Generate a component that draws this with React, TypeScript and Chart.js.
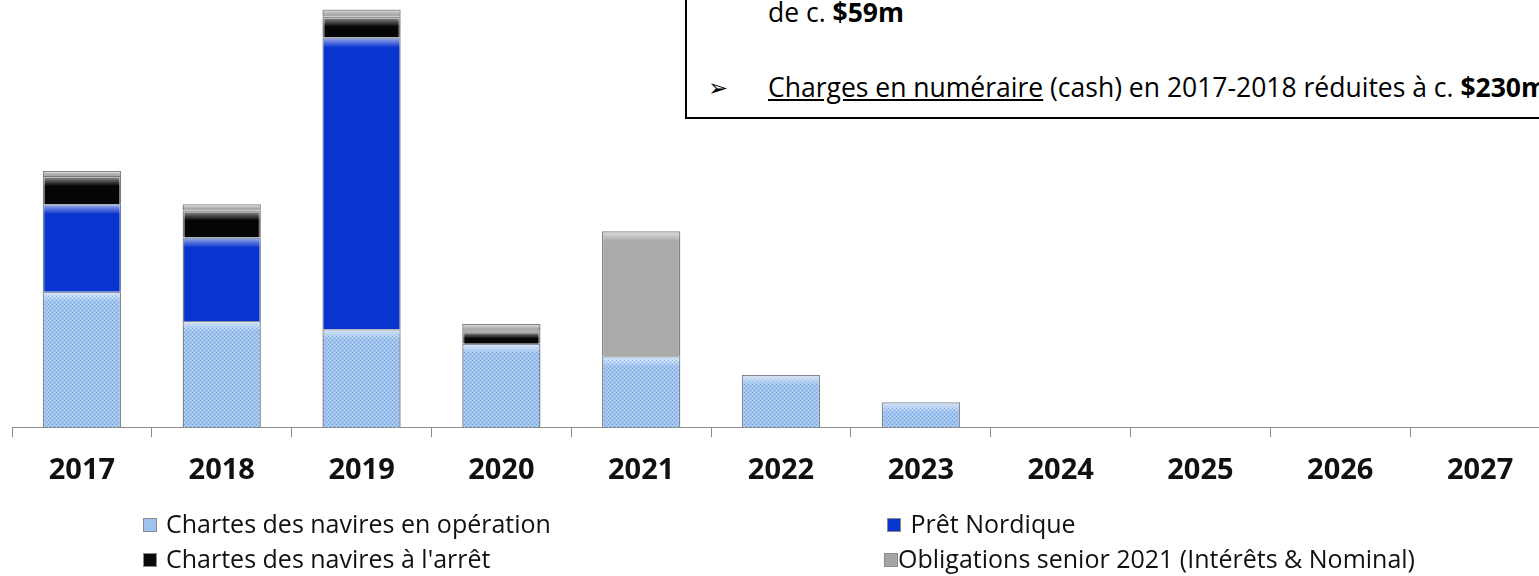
import React, { useEffect, useRef } from 'react';
import { Chart, registerables } from 'chart.js';

Chart.register(...registerables);

// ---- data ($m) ----
const years = ['2017', '2018', '2019', '2020', '2021', '2022', '2023', '2024', '2025', '2026', '2027'];
const chartesOperation = [65, 51, 47, 40, 34, 25, 12, null, null, null, null];
const pretNordique = [42, 40, 140, null, null, null, null, null, null, null, null];
const chartesArret = [13.5, 13, 10, 6, null, null, null, null, null, null, null];
const obligationsSenior = [2.5, 3, 3.5, 3.5, 60, null, null, null, null, null, null];
const seriesLabels = [
  'Chartes des navires en opération',
  'Prêt Nordique',
  "Chartes des navires à l'arrêt",
  'Obligations senior 2021 (Intérêts & Nominal)',
];
const Y_MAX = 205;

const FONT = "'Open Sans', 'DejaVu Sans', sans-serif";

function makeDotPattern(): CanvasPattern | string {
  const c = document.createElement('canvas');
  c.width = 4;
  c.height = 4;
  const g = c.getContext('2d');
  if (!g) return '#9ec3ef';
  g.fillStyle = '#9ec3ef';
  g.fillRect(0, 0, 4, 4);
  g.fillStyle = '#7aa2d6';
  g.fillRect(0, 0, 1, 1);
  g.fillRect(2, 2, 1, 1);
  g.fillStyle = '#b8d5f6';
  g.fillRect(2, 0, 1, 1);
  g.fillRect(0, 2, 1, 1);
  const p = g.createPattern(c, 'repeat');
  return p || '#9ec3ef';
}

const bevelPlugin = {
  id: 'bevel',
  afterDatasetsDraw(chart: any) {
    const ctx = chart.ctx;
    ctx.save();
    chart.data.datasets.forEach((ds: any, i: number) => {
      const meta = chart.getDatasetMeta(i);
      meta.data.forEach((el: any, j: number) => {
        const v = ds.data[j];
        if (v === null || v === undefined) return;
        const top = Math.min(el.y, el.base);
        const h = Math.abs(el.base - el.y);
        const left = el.x - el.width / 2 + 1;
        const w = el.width - 2;
        const band = Math.min(9, h / 2);
        if (band <= 0) return;
        const gr = ctx.createLinearGradient(0, top + 1, 0, top + 1 + band);
        gr.addColorStop(0, 'rgba(255,255,255,0.55)');
        gr.addColorStop(1, 'rgba(255,255,255,0)');
        ctx.fillStyle = gr;
        ctx.fillRect(left, top + 1, w, band);
      });
    });
    ctx.restore();
  },
};

const legendColors = ['#9ec3ef', '#0a34cf', '#0a0a0a', '#a6a6a6'];

export default function App() {
  const ref = useRef<HTMLCanvasElement | null>(null);

  useEffect(() => {
    if (!ref.current) return;
    const pattern = makeDotPattern();
    const chart = new Chart(ref.current, {
      type: 'bar',
      data: {
        labels: years,
        datasets: [
          {
            label: seriesLabels[0],
            data: chartesOperation,
            backgroundColor: pattern as any,
            borderColor: '#7d8796',
            borderWidth: 1.5,
          },
          {
            label: seriesLabels[1],
            data: pretNordique,
            backgroundColor: '#0a34cf',
            borderColor: '#6f7f9f',
            borderWidth: 1.5,
          },
          {
            label: seriesLabels[2],
            data: chartesArret,
            backgroundColor: '#050505',
            borderColor: '#7a7a7a',
            borderWidth: 2,
          },
          {
            label: seriesLabels[3],
            data: obligationsSenior,
            backgroundColor: '#aaaaaa',
            borderColor: '#808080',
            borderWidth: 1.5,
          },
        ],
      },
      options: {
        responsive: false,
        maintainAspectRatio: false,
        animation: false,
        devicePixelRatio: 1,
        layout: { padding: { top: 0, left: 12, right: 10, bottom: 72 } },
        datasets: {
          bar: { categoryPercentage: 1, barPercentage: 0.56 },
        },
        plugins: {
          legend: { display: false },
          tooltip: { enabled: false },
          title: { display: false },
        },
        scales: {
          x: {
            stacked: true,
            offset: true,
            grid: {
              offset: true,
              drawOnChartArea: false,
              drawTicks: true,
              tickLength: 10,
              color: '#8c8c8c',
              lineWidth: 1,
            },
            border: { display: true, color: '#8c8c8c', width: 1 },
            ticks: {
              color: '#111',
              padding: 16,
              maxRotation: 0,
              autoSkip: false,
              font: { family: FONT, size: 29, weight: 'bold' },
            },
          },
          y: {
            stacked: true,
            display: false,
            min: 0,
            max: Y_MAX,
          },
        },
      },
      plugins: [bevelPlugin],
    });
    return () => chart.destroy();
  }, []);

  const legendText: React.CSSProperties = {
    position: 'absolute',
    fontFamily: FONT,
    fontSize: 25,
    color: '#111',
    whiteSpace: 'pre',
    lineHeight: 'normal',
  };
  const sq = (c: string, x: number, y: number): React.CSSProperties => ({
    position: 'absolute',
    left: x,
    top: y,
    width: 14,
    height: 14,
    background: c,
    border: '1px solid #8a8a8a',
    boxSizing: 'border-box',
  });
  const boxText: React.CSSProperties = {
    position: 'absolute',
    fontFamily: FONT,
    fontSize: 26.5,
    lineHeight: 'normal',
    color: '#000',
    whiteSpace: 'pre',
  };

  return (
    <div
      style={{
        position: 'absolute',
        left: 0,
        top: 0,
        width: 1539,
        height: 576,
        overflow: 'hidden',
        background: '#fff',
      }}
    >
      <canvas
        ref={ref}
        width={1560}
        height={576}
        style={{ position: 'absolute', left: 0, top: 0, width: 1560, height: 576 }}
      />
      {/* annotation box */}
      <div
        style={{
          position: 'absolute',
          left: 685,
          top: -10,
          width: 1000,
          height: 129,
          boxSizing: 'border-box',
          border: '2px solid #000',
          background: '#fff',
        }}
      />
      <div style={{ ...boxText, left: 768, top: -6 }}>
        de c. <b>$59m</b>
      </div>
      <div style={{ position: 'absolute', left: 708, top: 72, fontFamily: "'DejaVu Sans', sans-serif", fontSize: 24, lineHeight: '32px', color: '#000' }}>
        ➢
      </div>
      <div style={{ ...boxText, left: 768, top: 69 }}>
        <span style={{ textDecoration: 'underline' }}>Charges en numéraire</span> (cash) en 2017-2018 réduites à c. <b>$230m</b>
      </div>
      {/* legend */}
      <div style={sq(legendColors[0], 143, 518)} />
      <div style={{ ...legendText, left: 166, top: 506 }}>{seriesLabels[0]}</div>
      <div style={sq(legendColors[2], 143, 553)} />
      <div style={{ ...legendText, left: 166, top: 541 }}>{seriesLabels[2]}</div>
      <div style={sq(legendColors[1], 887, 518)} />
      <div style={{ ...legendText, left: 904, top: 506 }}>{' ' + seriesLabels[1]}</div>
      <div style={sq(legendColors[3], 884, 553)} />
      <div style={{ ...legendText, left: 898, top: 541 }}>{seriesLabels[3]}</div>
    </div>
  );
}
